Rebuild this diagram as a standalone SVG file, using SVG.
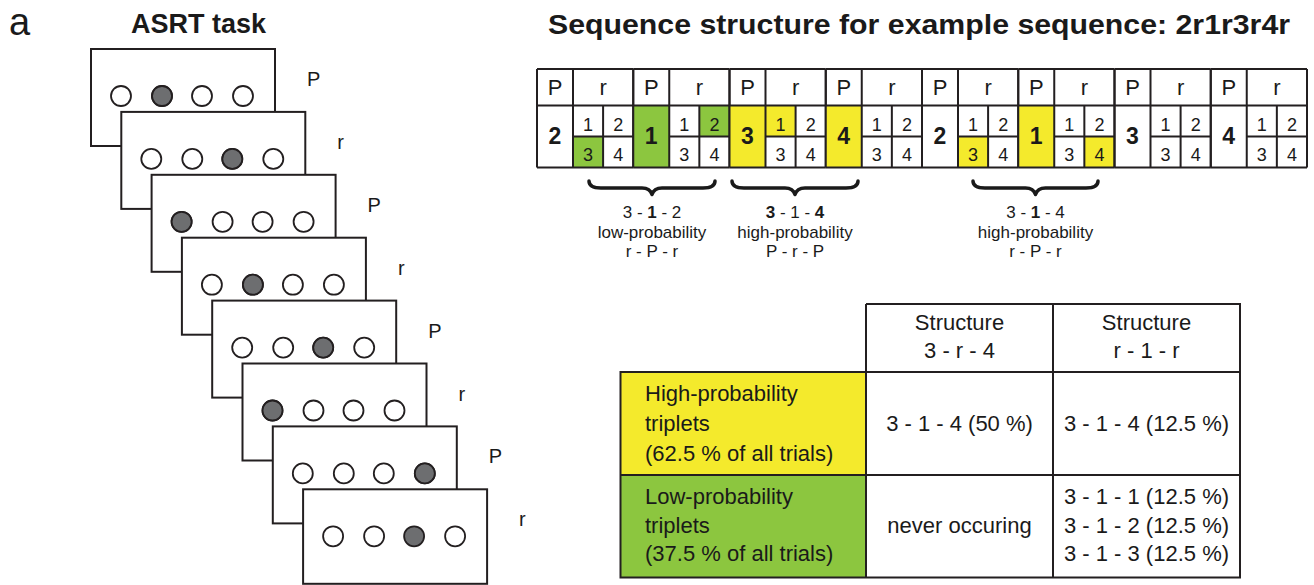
<svg xmlns="http://www.w3.org/2000/svg" xmlns:xlink="http://www.w3.org/1999/xlink" width="1314" height="585" viewBox="0 0 1314 585">
  <style>
    text { font-family: "Liberation Sans", Arial, sans-serif; fill: #1a1a1a; }
    .title { font-size: 27px; font-weight: bold; }
    .panel { font-size: 38px; }
    .card { fill: #ffffff; stroke: #231f20; stroke-width: 2; }
    .dot { fill: #ffffff; stroke: #231f20; stroke-width: 1.8; }
    .dot-on { fill: #6d6e70; stroke: #231f20; stroke-width: 1.8; }
    .cardlbl { font-size: 20px; }
    .grid { stroke: #231f20; stroke-width: 2; fill: none; }
    .hdr { font-size: 22px; text-anchor: middle; }
    .sub { font-size: 18px; text-anchor: middle; }
    .big { font-size: 23px; font-weight: bold; text-anchor: middle; }
    .yel { fill: #f4ea2c; }
    .grn { fill: #8cc63f; }
    .brace { fill: none; stroke: #1a1a1a; stroke-width: 3.5; stroke-linecap: round; stroke-linejoin: round; }
    .blbl { font-size: 17px; text-anchor: middle; }
    .tbl { font-size: 22px; }
    .mid { text-anchor: middle; }
  </style>
  <defs>
    <!-- one stimulus screen: frame and four empty circles -->
    <g id="screen">
      <rect class="card" x="0" y="0" width="184" height="97"/>
      <circle class="dot" cx="30" cy="47" r="10"/>
      <circle class="dot" cx="71" cy="47" r="10"/>
      <circle class="dot" cx="111" cy="47" r="10"/>
      <circle class="dot" cx="152" cy="47" r="10"/>
    </g>
    <!-- one P/r column pair of the sequence table -->
    <g id="pair">
      <path class="grid" d="M0,69 V167.5 M36,69 V167.5 M66.1,105.5 V167.5 M96.25,69 V167.5 M0,69 H96.25 M0,105.5 H96.25 M0,167.5 H96.25 M36,136.5 H96.25"/>
      <text class="hdr" x="18" y="95">P</text>
      <text class="hdr" x="66.1" y="95">r</text>
      <text class="sub" x="51.1" y="130.5">1</text>
      <text class="sub" x="81.2" y="130.5">2</text>
      <text class="sub" x="51.1" y="160.5">3</text>
      <text class="sub" x="81.2" y="160.5">4</text>
    </g>
  </defs>

  <rect x="0" y="0" width="1314" height="585" fill="#ffffff"/>

  <!-- headings -->
  <text class="panel" x="9" y="35">a</text>
  <text class="title" x="131" y="33">ASRT task</text>
  <text class="title" x="548" y="34" textLength="742" lengthAdjust="spacingAndGlyphs">Sequence structure for example sequence: 2r1r3r4r</text>

  <!-- ASRT task: stack of stimulus screens -->
  <g id="screens">
    <g id="screen-1" transform="translate(91,49)">
      <use xlink:href="#screen"/><circle class="dot-on" cx="71" cy="47" r="10"/>
      <text class="cardlbl" x="216" y="37">P</text>
    </g>
    <g id="screen-2" transform="translate(121.3,111.9)">
      <use xlink:href="#screen"/><circle class="dot-on" cx="111" cy="47" r="10"/>
      <text class="cardlbl" x="216" y="37">r</text>
    </g>
    <g id="screen-3" transform="translate(151.6,174.8)">
      <use xlink:href="#screen"/><circle class="dot-on" cx="30" cy="47" r="10"/>
      <text class="cardlbl" x="216" y="37">P</text>
    </g>
    <g id="screen-4" transform="translate(181.9,237.7)">
      <use xlink:href="#screen"/><circle class="dot-on" cx="71" cy="47" r="10"/>
      <text class="cardlbl" x="216" y="37">r</text>
    </g>
    <g id="screen-5" transform="translate(212.2,300.6)">
      <use xlink:href="#screen"/><circle class="dot-on" cx="111" cy="47" r="10"/>
      <text class="cardlbl" x="216" y="37">P</text>
    </g>
    <g id="screen-6" transform="translate(242.5,363.5)">
      <use xlink:href="#screen"/><circle class="dot-on" cx="30" cy="47" r="10"/>
      <text class="cardlbl" x="216" y="37">r</text>
    </g>
    <g id="screen-7" transform="translate(272.8,426.4)">
      <use xlink:href="#screen"/><circle class="dot-on" cx="152" cy="47" r="10"/>
      <text class="cardlbl" x="216" y="37">P</text>
    </g>
    <g id="screen-8" transform="translate(303.1,489.3)">
      <rect class="card" x="0" y="0" width="184" height="94.5"/>
      <circle class="dot" cx="30" cy="47" r="10"/>
      <circle class="dot" cx="71" cy="47" r="10"/>
      <circle class="dot-on" cx="111" cy="47" r="10"/>
      <circle class="dot" cx="152" cy="47" r="10"/>
      <text class="cardlbl" x="216" y="37">r</text>
    </g>
  </g>

  <!-- sequence table: eight P/r pairs -->
  <g id="sequence">
    <g id="pair-1" transform="translate(537,0)">
      <rect class="grn" x="36" y="136.5" width="30.1" height="31"/>
      <use xlink:href="#pair"/>
      <text class="big" x="18" y="144">2</text>
    </g>
    <g id="pair-2" transform="translate(633.25,0)">
      <rect class="grn" x="0" y="105.5" width="36" height="62"/>
      <rect class="grn" x="66.1" y="105.5" width="30.15" height="31"/>
      <use xlink:href="#pair"/>
      <text class="big" x="18" y="144">1</text>
    </g>
    <g id="pair-3" transform="translate(729.5,0)">
      <rect class="yel" x="0" y="105.5" width="36" height="62"/>
      <rect class="yel" x="36" y="105.5" width="30.1" height="31"/>
      <use xlink:href="#pair"/>
      <text class="big" x="18" y="144">3</text>
    </g>
    <g id="pair-4" transform="translate(825.75,0)">
      <rect class="yel" x="0" y="105.5" width="36" height="62"/>
      <use xlink:href="#pair"/>
      <text class="big" x="18" y="144">4</text>
    </g>
    <g id="pair-5" transform="translate(922,0)">
      <rect class="yel" x="36" y="136.5" width="30.1" height="31"/>
      <use xlink:href="#pair"/>
      <text class="big" x="18" y="144">2</text>
    </g>
    <g id="pair-6" transform="translate(1018.25,0)">
      <rect class="yel" x="0" y="105.5" width="36" height="62"/>
      <rect class="yel" x="66.1" y="136.5" width="30.15" height="31"/>
      <use xlink:href="#pair"/>
      <text class="big" x="18" y="144">1</text>
    </g>
    <g id="pair-7" transform="translate(1114.5,0)">
      <use xlink:href="#pair"/>
      <text class="big" x="18" y="144">3</text>
    </g>
    <g id="pair-8" transform="translate(1210.75,0)">
      <use xlink:href="#pair"/>
      <text class="big" x="18" y="144">4</text>
    </g>
  </g>

  <!-- triplet braces and their labels -->
  <g id="triplet-1">
    <path class="brace" d="M589,181 Q589,188 601,188 L642,188 Q650,188 652,194.5 Q654,188 662,188 L703,188 Q715,188 715,181"/>
    <text class="blbl" x="652" y="218">3 - <tspan font-weight="bold">1</tspan> - 2</text>
    <text class="blbl" x="652" y="237.5">low-probability</text>
    <text class="blbl" x="652" y="256.5">r - P - r</text>
  </g>
  <g id="triplet-2">
    <path class="brace" d="M732,181 Q732,188 744,188 L785,188 Q793,188 795,194.5 Q797,188 805,188 L846,188 Q858,188 858,181"/>
    <text class="blbl" x="795" y="218"><tspan font-weight="bold">3</tspan> - 1 - <tspan font-weight="bold">4</tspan></text>
    <text class="blbl" x="795" y="237.5">high-probability</text>
    <text class="blbl" x="795" y="256.5">P - r - P</text>
  </g>
  <g id="triplet-3">
    <path class="brace" d="M973,181 Q973,188 985,188 L1025.5,188 Q1033.5,188 1035.5,194.5 Q1037.5,188 1045.5,188 L1086,188 Q1098,188 1098,181"/>
    <text class="blbl" x="1035.5" y="218">3 - <tspan font-weight="bold">1</tspan> - 4</text>
    <text class="blbl" x="1035.5" y="237.5">high-probability</text>
    <text class="blbl" x="1035.5" y="256.5">r - P - r</text>
  </g>

  <!-- triplet summary table -->
  <g id="summary">
    <rect class="yel" x="620.5" y="372" width="245.5" height="103"/>
    <rect class="grn" x="620.5" y="475" width="245.5" height="102.5"/>
    <path class="grid" d="M866,304 H1240 V577.5 H620.5 V372 H1240 M620.5,475 H1240 M866,304 V577.5 M1053,304 V577.5"/>

    <text class="tbl mid" x="959.5" y="330">Structure</text>
    <text class="tbl mid" x="959.5" y="358">3 - r - 4</text>
    <text class="tbl mid" x="1146.5" y="330">Structure</text>
    <text class="tbl mid" x="1146.5" y="358">r - 1 - r</text>

    <text class="tbl" x="645" y="401">High-probability</text>
    <text class="tbl" x="645" y="431">triplets</text>
    <text class="tbl" x="645" y="461">(62.5 % of all trials)</text>
    <text class="tbl mid" x="959.5" y="431">3 - 1 - 4 (50 %)</text>
    <text class="tbl mid" x="1146.5" y="431">3 - 1 - 4 (12.5 %)</text>

    <text class="tbl" x="645" y="504">Low-probability</text>
    <text class="tbl" x="645" y="532.5">triplets</text>
    <text class="tbl" x="645" y="561">(37.5 % of all trials)</text>
    <text class="tbl mid" x="959.5" y="532.5">never occuring</text>
    <text class="tbl mid" x="1146.5" y="504">3 - 1 - 1 (12.5 %)</text>
    <text class="tbl mid" x="1146.5" y="532.5">3 - 1 - 2 (12.5 %)</text>
    <text class="tbl mid" x="1146.5" y="561">3 - 1 - 3 (12.5 %)</text>
  </g>
</svg>
